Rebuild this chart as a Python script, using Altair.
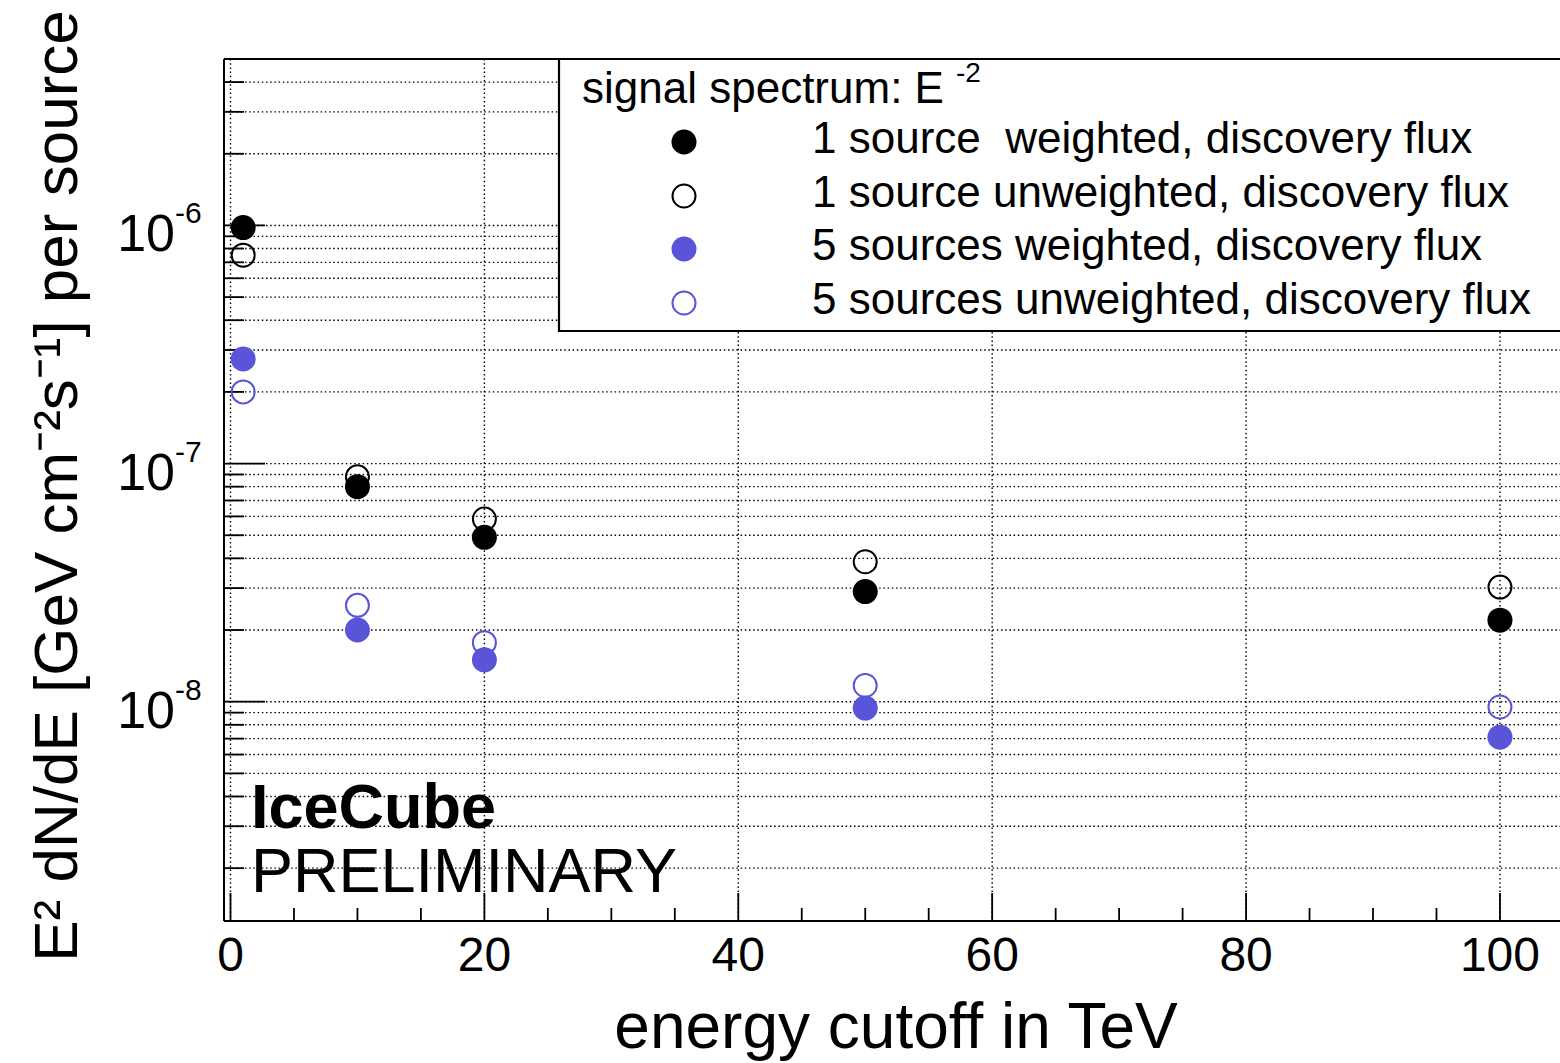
import altair as alt
import pandas as pd

# Discovery flux E^2 dN/dE [GeV cm^-2 s^-1] per source vs. energy cutoff (TeV)
cutoff_tev = [1, 10, 20, 50, 100]
one_src_weighted = [9.8e-7, 8.0e-8, 4.9e-8, 2.9e-8, 2.2e-8]
one_src_unweighted = [7.5e-7, 8.8e-8, 5.85e-8, 3.87e-8, 3.03e-8]
five_src_weighted = [2.75e-7, 2.0e-8, 1.5e-8, 9.4e-9, 7.1e-9]
five_src_unweighted = [2.0e-7, 2.54e-8, 1.77e-8, 1.17e-8, 9.5e-9]

series_labels = [
    "1 source\u00a0 weighted, discovery flux",
    "1 source unweighted, discovery flux",
    "5 sources weighted, discovery flux",
    "5 sources unweighted, discovery flux",
]

x_major_ticks = [0, 20, 40, 60, 80, 100]
x_major_labels = ["0", "20", "40", "60", "80", "100"]
x_minor_ticks = [5, 10, 15, 25, 30, 35, 45, 50, 55, 65, 70, 75, 85, 90, 95]
y_major_ticks = [1e-8, 1e-7, 1e-6]
y_major_exponents = ["-8", "-7", "-6"]
y_minor_ticks = [
    2e-9, 3e-9, 4e-9, 5e-9, 6e-9, 7e-9, 8e-9, 9e-9,
    2e-8, 3e-8, 4e-8, 5e-8, 6e-8, 7e-8, 8e-8, 9e-8,
    2e-7, 3e-7, 4e-7, 5e-7, 6e-7, 7e-7, 8e-7, 9e-7,
    2e-6, 3e-6, 4e-6,
]

BLACK = "#000000"
BLUE = "#5954d8"
FONT = "Liberation Sans"

# plot area geometry (pixels)
W, H = 1336, 862
PAD = {"left": 224, "top": 59, "right": 0, "bottom": 142}

xs = alt.Scale(domain=[-0.512, 104.73], nice=False, zero=False)
ys = alt.Scale(type="log", domain=[1.2e-9, 5e-6], nice=False)
X = alt.X("x:Q", scale=xs, axis=None)
Y = alt.Y("y:Q", scale=ys, axis=None)

one = pd.DataFrame({"k": [0]})
dotted = dict(color=BLACK, strokeWidth=1.4, strokeDash=[1.5, 2.7])

layers = []

# dotted grid
layers.append(
    alt.Chart(pd.DataFrame({"y": y_major_ticks + y_minor_ticks}))
    .mark_rule(**dotted)
    .encode(y=Y, x=alt.value(0), x2=alt.value(W))
)
layers.append(
    alt.Chart(pd.DataFrame({"x": x_major_ticks}))
    .mark_rule(**dotted)
    .encode(x=X, y=alt.value(0), y2=alt.value(H))
)

# inward tick marks
tick = dict(color=BLACK, strokeWidth=1.8)
layers.append(
    alt.Chart(pd.DataFrame({"y": y_major_ticks}))
    .mark_rule(**tick)
    .encode(y=Y, x=alt.value(0), x2=alt.value(41))
)
layers.append(
    alt.Chart(pd.DataFrame({"y": y_minor_ticks}))
    .mark_rule(**tick)
    .encode(y=Y, x=alt.value(0), x2=alt.value(20))
)
layers.append(
    alt.Chart(pd.DataFrame({"x": x_major_ticks}))
    .mark_rule(**tick)
    .encode(x=X, y=alt.value(H), y2=alt.value(H - 28))
)
layers.append(
    alt.Chart(pd.DataFrame({"x": x_minor_ticks}))
    .mark_rule(**tick)
    .encode(x=X, y=alt.value(H), y2=alt.value(H - 13))
)

# frame (left, bottom, top)
frame = dict(color=BLACK, strokeWidth=2)
layers.append(alt.Chart(one).mark_rule(**frame).encode(x=alt.value(0), y=alt.value(0), y2=alt.value(H)))
layers.append(alt.Chart(one).mark_rule(**frame).encode(y=alt.value(H), x=alt.value(0), x2=alt.value(W)))
layers.append(alt.Chart(one).mark_rule(**frame).encode(y=alt.value(0), x=alt.value(0), x2=alt.value(W)))

# axis tick labels
layers.append(
    alt.Chart(pd.DataFrame({"x": x_major_ticks, "lab": x_major_labels}))
    .mark_text(font=FONT, fontSize=48, align="center", baseline="alphabetic", dy=50)
    .encode(x=X, y=alt.value(H), text="lab:N")
)
ylab = pd.DataFrame({"y": y_major_ticks, "base": ["10"] * 3, "exp": y_major_exponents})
layers.append(
    alt.Chart(ylab)
    .mark_text(font=FONT, fontSize=52, align="right", baseline="alphabetic", dy=26)
    .encode(y=Y, x=alt.value(-49), text="base:N")
)
layers.append(
    alt.Chart(ylab)
    .mark_text(font=FONT, fontSize=30, align="left", baseline="alphabetic", dy=-2)
    .encode(y=Y, x=alt.value(-49), text="exp:N")
)

# axis titles
layers.append(
    alt.Chart(one)
    .mark_text(text="energy cutoff in TeV", font=FONT, fontSize=64, align="center", baseline="alphabetic")
    .encode(x=alt.value(672), y=alt.value(989))
)
layers.append(
    alt.Chart(one)
    .mark_text(
        text="E² dN/dE [GeV cm⁻²s⁻¹] per source",
        font=FONT, fontSize=62, align="center", baseline="alphabetic", angle=270,
    )
    .encode(x=alt.value(-147), y=alt.value(427))
)

# legend box
layers.append(
    alt.Chart(one)
    .mark_rect(fill="white", stroke=BLACK, strokeWidth=2.2)
    .encode(x=alt.value(335), x2=alt.value(W + 20), y=alt.value(0), y2=alt.value(272))
)
layers.append(
    alt.Chart(one)
    .mark_text(text="signal spectrum: E", font=FONT, fontSize=44, align="left", baseline="alphabetic")
    .encode(x=alt.value(358), y=alt.value(44))
)
layers.append(
    alt.Chart(one)
    .mark_text(text="-2", font=FONT, fontSize=28, align="left", baseline="alphabetic")
    .encode(x=alt.value(732), y=alt.value(23))
)

styles = [
    (one_src_weighted, BLACK, True),
    (one_src_unweighted, BLACK, False),
    (five_src_weighted, BLUE, True),
    (five_src_unweighted, BLUE, False),
]


def marker(color, filled):
    if filled:
        return dict(shape="circle", filled=True, fill=color, stroke=color, strokeWidth=0, opacity=1, size=625)
    return dict(shape="circle", filled=False, stroke=color, fillOpacity=0, strokeWidth=2, opacity=1, size=529)


legend_rows = [83, 137, 190, 244]
for (vals, color, filled), label, ly in zip(styles, series_labels, legend_rows):
    layers.append(
        alt.Chart(one).mark_point(**marker(color, filled)).encode(x=alt.value(460), y=alt.value(ly))
    )
    layers.append(
        alt.Chart(one)
        .mark_text(text=label, font=FONT, fontSize=44, align="left", baseline="alphabetic")
        .encode(x=alt.value(588), y=alt.value(ly + 11))
    )

# data points: open markers underneath, filled markers on top
for idx in (1, 3, 0, 2):
    vals, color, filled = styles[idx]
    df = pd.DataFrame({"x": cutoff_tev, "y": vals})
    layers.append(alt.Chart(df).mark_point(**marker(color, filled)).encode(x=X, y=Y))

# experiment tag
layers.append(
    alt.Chart(one)
    .mark_text(text="IceCube", font=FONT, fontSize=63, fontWeight="bold", align="left", baseline="alphabetic")
    .encode(x=alt.value(27), y=alt.value(769))
)
layers.append(
    alt.Chart(one)
    .mark_text(text="PRELIMINARY", font=FONT, fontSize=63, align="left", baseline="alphabetic")
    .encode(x=alt.value(27), y=alt.value(833))
)

chart = (
    alt.layer(*layers)
    .properties(width=W, height=H, padding=PAD, autosize=alt.AutoSizeParams(type="none"), background="white")
    .configure_view(strokeWidth=0)
)

chart.save("out.html", embed_options={"renderer": "svg", "actions": False})
